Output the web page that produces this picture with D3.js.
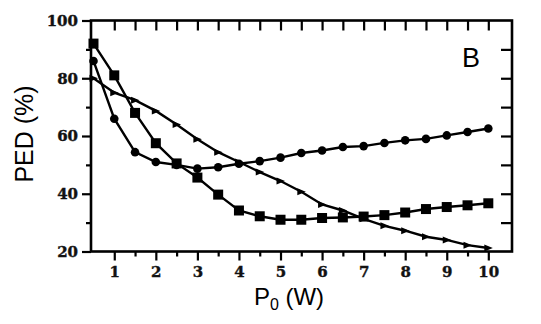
<!DOCTYPE html>
<html>
<head>
<meta charset="utf-8">
<script src="https://cdn.jsdelivr.net/npm/d3@7"></script>
<style>
  body { margin: 0; background: #fff; }
  .tickLabels text { font-family: "DejaVu Serif", serif; font-weight: bold; font-size: 15px; fill: #121212; stroke: #121212; stroke-width: 0.4px; }
  .axisTitle { font-family: "Liberation Sans", Arial, sans-serif; fill: #000; }
</style>
</head>
<body>
<div id="chart"></div>
<script>
// P0 in watts
var power = [0.5, 1, 1.5, 2, 2.5, 3, 3.5, 4, 4.5, 5, 5.5, 6, 6.5, 7, 7.5, 8, 8.5, 9, 9.5, 10];
// PED (%) for each marker series
var pedCircle = [86, 66, 54.4, 51, 50, 48.7, 49.2, 50.4, 51.3, 52.5, 54.1, 55, 56.2, 56.5, 57.6, 58.5, 59, 60.2, 61.4, 62.6];
var pedSquare = [92, 81, 68, 57.5, 50.5, 45.6, 39.7, 34.2, 32.2, 31, 31, 31.6, 31.8, 32.1, 32.6, 33.5, 34.7, 35.4, 36, 36.7];
var pedTriangle = [80, 75, 72.4, 68.7, 64, 58.9, 54.4, 51, 47.5, 44.4, 40.7, 36.3, 34.2, 31.3, 28.9, 27.2, 25.1, 24, 22.2, 21.2];

var xMajor = [1, 2, 3, 4, 5, 6, 7, 8, 9, 10],
	xMinor = [1.5, 2.5, 3.5, 4.5, 5.5, 6.5, 7.5, 8.5, 9.5],
	yMajor = [20, 40, 60, 80, 100],
	yMinor = [30, 50, 70, 90];

var width = 541, height = 324;
var plotL = 91, plotR = 512, plotT = 20.5, plotB = 251.5;

var svg = d3.select("#chart").append("svg")
	.attr("width", width)
	.attr("height", height);

var x = d3.scaleLinear().domain([0.44, 10.57]).range([plotL, plotR]);
var y = d3.scaleLinear().domain([20, 100]).range([plotB, plotT]);

function styleAxis(g) {
	g.select(".domain").remove();
	g.selectAll(".tick line").style("stroke", "#000").style("stroke-width", 2.2);
}

// minor ticks
svg.append("g").attr("transform", "translate(" + plotL + ",0)")
	.call(d3.axisLeft(y).tickValues(yMinor).tickSize(5).tickFormat(""))
	.call(styleAxis);
svg.append("g").attr("transform", "translate(0," + plotB + ")")
	.call(d3.axisBottom(x).tickValues(xMinor).tickSize(5).tickFormat(""))
	.call(styleAxis);

// major ticks with labels
svg.append("g").attr("class", "tickLabels").attr("transform", "translate(" + plotL + ",0)")
	.call(d3.axisLeft(y).tickValues(yMajor).tickSize(9).tickPadding(4))
	.call(styleAxis);
svg.append("g").attr("class", "tickLabels").attr("transform", "translate(0," + plotB + ")")
	.call(d3.axisBottom(x).tickValues(xMajor).tickSize(9).tickPadding(6))
	.call(styleAxis);

// inward ticks on top and right
svg.append("g").attr("transform", "translate(0," + plotT + ")")
	.call(d3.axisTop(x).tickValues(xMajor.concat(xMinor)).tickSize(-10).tickFormat(""))
	.call(styleAxis);
svg.append("g").attr("transform", "translate(" + plotR + ",0)")
	.call(d3.axisRight(y).tickValues([30, 40, 50, 60, 70, 80, 90]).tickSize(-11).tickFormat(""))
	.call(styleAxis);

// frame
svg.append("rect")
	.attr("x", plotL)
	.attr("y", plotT)
	.attr("width", plotR - plotL)
	.attr("height", plotB - plotT)
	.style("fill", "none")
	.style("stroke", "#000")
	.style("stroke-width", 2.6);

var line = d3.line()
	.x(function(d) { return x(d[0]); })
	.y(function(d) { return y(d[1]); });

var series = [
	{ name: "circle", values: pedCircle },
	{ name: "square", values: pedSquare },
	{ name: "triangle", values: pedTriangle }
];

series.forEach(function(s) {
	var pts = power.map(function(p, i) { return [p, s.values[i]]; });
	svg.append("path")
		.datum(pts)
		.attr("d", line)
		.style("fill", "none")
		.style("stroke", "#000")
		.style("stroke-width", 2.4);

	var marks = svg.append("g").selectAll("g")
		.data(pts)
		.enter().append("g")
		.attr("transform", function(d) { return "translate(" + x(d[0]) + "," + y(d[1]) + ")"; });

	if (s.name == "circle") {
		marks.append("circle").attr("r", 4.3).style("fill", "#000");
	} else if (s.name == "square") {
		marks.append("rect").attr("x", -5).attr("y", -5).attr("width", 10).attr("height", 10).style("fill", "#000");
	} else {
		marks.append("path").attr("d", "M-4,-3.5L4.5,0L-4,3.5Z").style("fill", "#000");
	}
});

// titles
svg.append("text")
	.attr("class", "axisTitle")
	.attr("transform", "translate(33,134) rotate(-90)")
	.attr("text-anchor", "middle")
	.style("font-size", "25px")
	.text("PED (%)");

var xt = svg.append("text")
	.attr("class", "axisTitle")
	.attr("x", 289)
	.attr("y", 305)
	.attr("text-anchor", "middle")
	.style("font-size", "24px");
xt.append("tspan").text("P");
xt.append("tspan").attr("dy", 5).style("font-size", "16px").text("0");
xt.append("tspan").attr("dy", -5).text(" (W)");

svg.append("text")
	.attr("class", "axisTitle")
	.attr("x", 462)
	.attr("y", 66.5)
	.style("font-size", "27px")
	.text("B");
</script>
</body>
</html>
